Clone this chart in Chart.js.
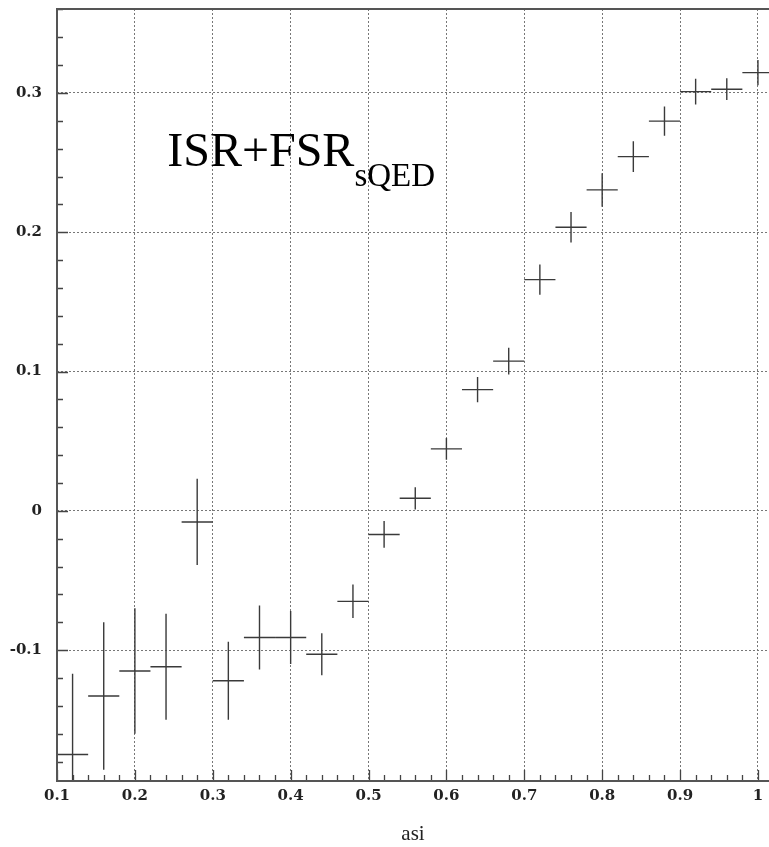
<!DOCTYPE html>
<html>
<head>
<meta charset="utf-8">
<script src="https://cdn.jsdelivr.net/npm/chart.js@4"></script>
<style>
  html, body { margin: 0; padding: 0; background: #fff; }
  #wrap { width: 769px; height: 847px; }
</style>
</head>
<body>
<div id="wrap"><canvas id="grafica" width="769" height="847"></canvas></div>
<script>
// bin centres and half widths
const xCentros = [0.12, 0.16, 0.20, 0.24, 0.28, 0.32, 0.36, 0.40, 0.44, 0.48, 0.52, 0.56,
                  0.60, 0.64, 0.68, 0.72, 0.76, 0.80, 0.84, 0.88, 0.92, 0.96, 1.00];
const xErr = [0.02, 0.02, 0.02, 0.02, 0.02, 0.02, 0.02, 0.02, 0.02, 0.02, 0.02, 0.02,
              0.02, 0.02, 0.02, 0.02, 0.02, 0.02, 0.02, 0.02, 0.02, 0.02, 0.02];
const yValores = [-0.175, -0.133, -0.115, -0.112, -0.008, -0.122, -0.091, -0.091, -0.103, -0.065, -0.017, 0.009,
                  0.0445, 0.087, 0.1075, 0.166, 0.2036, 0.2304, 0.2543, 0.2798, 0.301, 0.3027, 0.3146];
const yErr = [0.058, 0.053, 0.045, 0.038, 0.031, 0.028, 0.023, 0.019, 0.015, 0.012, 0.0096, 0.008,
              0.0078, 0.009, 0.0096, 0.0108, 0.011, 0.012, 0.011, 0.0105, 0.0093, 0.0078, 0.009];

const xTicks = [0.1, 0.2, 0.3, 0.4, 0.5, 0.6, 0.7, 0.8, 0.9, 1.0];
const xTickLabels = ["0.1", "0.2", "0.3", "0.4", "0.5", "0.6", "0.7", "0.8", "0.9", "1"];
const yTicks = [-0.1, 0, 0.1, 0.2, 0.3];
const yTickLabels = ["-0.1", "0", "0.1", "0.2", "0.3"];

const tituloPrincipal = "ISR+FSR";
const tituloSub = "sQED";
const ejeX = "asi";

const puntos = xCentros.map((x, i) => ({ x: x, y: yValores[i] }));

// error crosses, frame, inward ticks and the label
const pluginDibujo = {
    id: "dibujo",
    afterDatasetsDraw(chart) {
        const ctx = chart.ctx;
        const sx = chart.scales.x;
        const sy = chart.scales.y;
        const a = chart.chartArea;

        ctx.save();
        ctx.beginPath();
        ctx.rect(a.left, a.top, a.right - a.left, a.bottom - a.top);
        ctx.clip();
        ctx.strokeStyle = "#3a3a3a";
        ctx.lineWidth = 1.4;
        for (let i = 0; i < xCentros.length; i++) {
            const px = sx.getPixelForValue(xCentros[i]);
            const py = sy.getPixelForValue(yValores[i]);
            ctx.beginPath();
            ctx.moveTo(sx.getPixelForValue(xCentros[i] - xErr[i]), py);
            ctx.lineTo(sx.getPixelForValue(xCentros[i] + xErr[i]), py);
            ctx.moveTo(px, sy.getPixelForValue(yValores[i] - yErr[i]));
            ctx.lineTo(px, sy.getPixelForValue(yValores[i] + yErr[i]));
            ctx.stroke();
        }
        ctx.restore();

        ctx.save();
        ctx.strokeStyle = "#444";
        ctx.lineWidth = 1.3;
        // minor and major ticks, pointing inwards
        ctx.beginPath();
        for (let k = 0; k <= 45; k++) {
            const v = 0.1 + k * 0.02;
            const px = Math.round(sx.getPixelForValue(v)) + 0.5;
            const len = (k % 5 === 0) ? 11 : 6;
            ctx.moveTo(px, a.bottom);
            ctx.lineTo(px, a.bottom - len);
        }
        for (let k = -9; k <= 18; k++) {
            const v = k * 0.02;
            if (v < sy.min || v > sy.max) continue;
            const py = Math.round(sy.getPixelForValue(v)) + 0.5;
            const len = (k % 5 === 0) ? 11 : 6;
            ctx.moveTo(a.left, py);
            ctx.lineTo(a.left + len, py);
        }
        ctx.stroke();

        // frame
        ctx.strokeStyle = "#555";
        ctx.lineWidth = 2;
        ctx.beginPath();
        ctx.moveTo(a.right, a.top);
        ctx.lineTo(a.left, a.top);
        ctx.lineTo(a.left, a.bottom);
        ctx.lineTo(a.right, a.bottom);
        ctx.stroke();

        // label inside the plot
        ctx.fillStyle = "#000";
        ctx.textBaseline = "alphabetic";
        ctx.font = "48px 'Liberation Serif', 'Times New Roman', serif";
        const x0 = sx.getPixelForValue(0.2415);
        const y0 = sy.getPixelForValue(0.2476);
        ctx.fillText(tituloPrincipal, x0, y0);
        const w = ctx.measureText(tituloPrincipal).width;
        ctx.font = "33px 'Liberation Serif', 'Times New Roman', serif";
        ctx.fillText(tituloSub, x0 + w, y0 + 20);
        ctx.restore();
    }
};

const fuenteTicks = { family: "'DejaVu Serif', serif", size: 15, weight: "bold" };

new Chart(document.getElementById("grafica").getContext("2d"), {
    type: "scatter",
    data: {
        datasets: [{
            label: tituloPrincipal,
            data: puntos,
            pointRadius: 0,
            showLine: false
        }]
    },
    options: {
        responsive: false,
        animation: false,
        layout: { autoPadding: false, padding: { top: 9, left: 0, right: 0, bottom: 0 } },
        plugins: {
            legend: { display: false },
            tooltip: { enabled: false }
        },
        scales: {
            x: {
                type: "linear",
                min: 0.1,
                max: 1.0142,
                afterBuildTicks: (s) => { s.ticks = xTicks.map(v => ({ value: v })); },
                afterFit: (s) => { s.height = 66; s.paddingLeft = 0; s.paddingRight = 0; },
                ticks: {
                    color: "#222",
                    font: fuenteTicks,
                    padding: 6,
                    maxRotation: 0,
                    autoSkip: false,
                    callback: (v) => {
                        const i = xTicks.findIndex(t => Math.abs(t - v) < 1e-9);
                        return i >= 0 ? xTickLabels[i] : "";
                    }
                },
                grid: { color: "#777", lineWidth: 1, drawTicks: false },
                border: { display: false, dash: [2, 2] },
                title: {
                    display: true,
                    text: ejeX,
                    color: "#222",
                    font: { family: "'Liberation Serif', serif", size: 21 },
                    padding: { top: 0, bottom: 0 }
                }
            },
            y: {
                type: "linear",
                min: -0.194,
                max: 0.3603,
                afterBuildTicks: (s) => { s.ticks = yTicks.map(v => ({ value: v })); },
                afterFit: (s) => { s.width = 57; s.paddingTop = 0; s.paddingBottom = 0; },
                ticks: {
                    color: "#222",
                    font: fuenteTicks,
                    padding: 15,
                    autoSkip: false,
                    callback: (v) => {
                        const i = yTicks.findIndex(t => Math.abs(t - v) < 1e-9);
                        return i >= 0 ? yTickLabels[i] : "";
                    }
                },
                grid: { color: "#777", lineWidth: 1, drawTicks: false },
                border: { display: false, dash: [2, 2] }
            }
        }
    },
    plugins: [pluginDibujo]
});
</script>
</body>
</html>
